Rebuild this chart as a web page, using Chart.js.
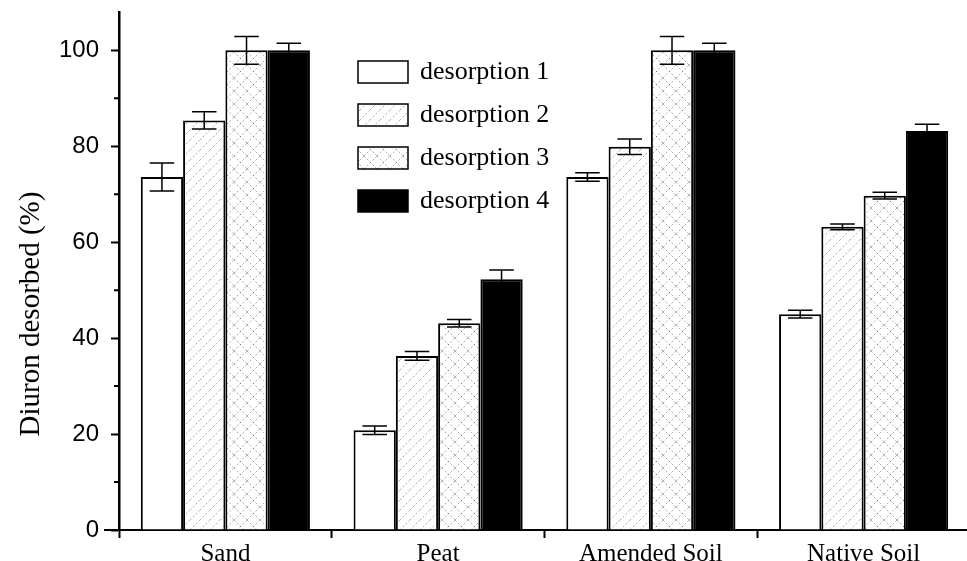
<!DOCTYPE html>
<html>
<head>
<meta charset="utf-8">
<script src="https://cdn.jsdelivr.net/npm/chart.js@4"></script>
<style>
  html, body { margin: 0; padding: 0; background: #fff; overflow: hidden; }
  #wrap { width: 975px; height: 561px; }
</style>
</head>
<body>
<div id="wrap"><canvas id="chart" width="975" height="561"></canvas></div>
<script>
const categories = ['Sand', 'Peat', 'Amended Soil', 'Native Soil'];
const seriesNames = ['desorption 1', 'desorption 2', 'desorption 3', 'desorption 4'];
const yTitle = 'Diuron desorbed (%)';

const desorption1 = [73.6, 20.8, 73.6, 45.0];
const desorption2 = [85.4, 36.3, 79.9, 63.2];
const desorption3 = [100.0, 43.1, 100.0, 69.7];
const desorption4 = [100.0, 52.3, 100.0, 83.2];

const error1 = [2.9, 0.9, 0.9, 0.8];
const error2 = [1.8, 0.9, 1.6, 0.6];
const error3 = [2.9, 0.8, 2.9, 0.7];
const error4 = [1.5, 1.9, 1.5, 1.4];

const yMajorTicks = [0, 20, 40, 60, 80, 100];
const yMinorTicks = [10, 30, 50, 70, 90];

// hatch fills like the scanned figure
function makePattern(kind) {
    const c = document.createElement('canvas');
    const s = kind === 'cross' ? 13 : 10;
    c.width = s; c.height = s;
    const g = c.getContext('2d');
    g.fillStyle = '#fff';
    g.fillRect(0, 0, s, s);
    g.strokeStyle = 'rgba(0,0,0,0.32)';
    g.lineWidth = 1;
    g.setLineDash([2, 2]);
    g.beginPath();
    g.moveTo(0, s); g.lineTo(s, 0);
    if (kind === 'cross') {
        g.moveTo(0, 0); g.lineTo(s, s);
    }
    g.stroke();
    return g.createPattern(c, 'repeat');
}

const fills = ['#ffffff', makePattern('single'), makePattern('cross'), '#000000'];
const values = [desorption1, desorption2, desorption3, desorption4];
const errors = [error1, error2, error3, error4];

const errorBars = {
    id: 'errorBars',
    afterDatasetsDraw(chart) {
        const { ctx } = chart;
        const y = chart.scales.y;
        ctx.save();
        ctx.strokeStyle = '#000';
        ctx.lineWidth = 1.5;
        chart.data.datasets.forEach((ds, i) => {
            const meta = chart.getDatasetMeta(i);
            meta.data.forEach((bar, j) => {
                const v = ds.data[j];
                const e = errors[i][j];
                const top = y.getPixelForValue(v + e);
                const bot = y.getPixelForValue(v - e);
                const half = bar.width * 0.29;
                ctx.beginPath();
                ctx.moveTo(bar.x, top); ctx.lineTo(bar.x, bot);
                ctx.moveTo(bar.x - half, top); ctx.lineTo(bar.x + half, top);
                ctx.moveTo(bar.x - half, bot); ctx.lineTo(bar.x + half, bot);
                ctx.stroke();
            });
        });
        ctx.restore();
    }
};

const axisExtras = {
    id: 'axisExtras',
    afterDraw(chart) {
        const { ctx, chartArea } = chart;
        const y = chart.scales.y;
        ctx.save();
        ctx.strokeStyle = '#000';
        ctx.lineWidth = 2;
        ctx.beginPath();
        yMinorTicks.forEach(v => {
            const py = y.getPixelForValue(v);
            ctx.moveTo(chartArea.left - 5, py);
            ctx.lineTo(chartArea.left, py);
        });
        // x axis runs a little past the y axis
        ctx.moveTo(chartArea.left - 15, chartArea.bottom);
        ctx.lineTo(chartArea.left, chartArea.bottom);
        ctx.stroke();

        // y axis title, centred a bit below the middle as in the figure
        ctx.translate(31, 314);
        ctx.rotate(-Math.PI / 2);
        ctx.font = '29px "Liberation Serif"';
        ctx.fillStyle = '#000';
        ctx.textAlign = 'center';
        ctx.textBaseline = 'middle';
        ctx.fillText(yTitle, 0, 0);
        ctx.restore();
    }
};

const boxLegend = {
    id: 'boxLegend',
    afterDraw(chart) {
        const { ctx } = chart;
        ctx.save();
        ctx.font = '26px "Liberation Serif"';
        ctx.textBaseline = 'middle';
        chart.data.datasets.forEach((ds, i) => {
            const cy = 72 + i * 43;
            ctx.fillStyle = ds.backgroundColor;
            ctx.fillRect(358, cy - 11, 50, 22);
            ctx.strokeStyle = '#000';
            ctx.lineWidth = 1.5;
            ctx.strokeRect(358, cy - 11, 50, 22);
            ctx.fillStyle = '#000';
            ctx.fillText(ds.label, 420, cy);
        });
        ctx.restore();
    }
};

new Chart(document.getElementById('chart'), {
    type: 'bar',
    data: {
        labels: categories,
        datasets: seriesNames.map((name, i) => ({
            label: name,
            data: values[i],
            backgroundColor: fills[i],
            borderColor: '#000',
            borderWidth: 2,
            categoryPercentage: 0.795,
            barPercentage: 1.0
        }))
    },
    options: {
        responsive: false,
        devicePixelRatio: 1,
        animation: false,
        layout: { padding: { top: 12, left: 0, right: 5, bottom: 0 } },
        plugins: {
            legend: { display: false },
            tooltip: { enabled: false }
        },
        scales: {
            x: {
                offset: true,
                border: { display: true, color: '#000', width: 2 },
                grid: { offset: true, drawOnChartArea: false, tickLength: 8, tickWidth: 2, tickColor: '#000' },
                ticks: { color: '#000', padding: 1, font: { family: '"Liberation Serif"', size: 25 } },
                afterFit(scale) { scale.height = 31; scale.paddingLeft = 0; scale.paddingRight = 0; }
            },
            y: {
                min: 0,
                max: 108,
                border: { display: true, color: '#000', width: 2.5 },
                grid: { drawOnChartArea: false, tickLength: 8, tickWidth: 2, tickColor: '#000' },
                ticks: { color: '#000', padding: 12, font: { family: '"Liberation Sans"', size: 24 } },
                afterBuildTicks(scale) { scale.ticks = yMajorTicks.map(v => ({ value: v })); },
                afterFit(scale) { scale.width = 119; scale.paddingTop = 0; scale.paddingBottom = 0; }
            }
        }
    },
    plugins: [errorBars, axisExtras, boxLegend]
});
</script>
</body>
</html>
